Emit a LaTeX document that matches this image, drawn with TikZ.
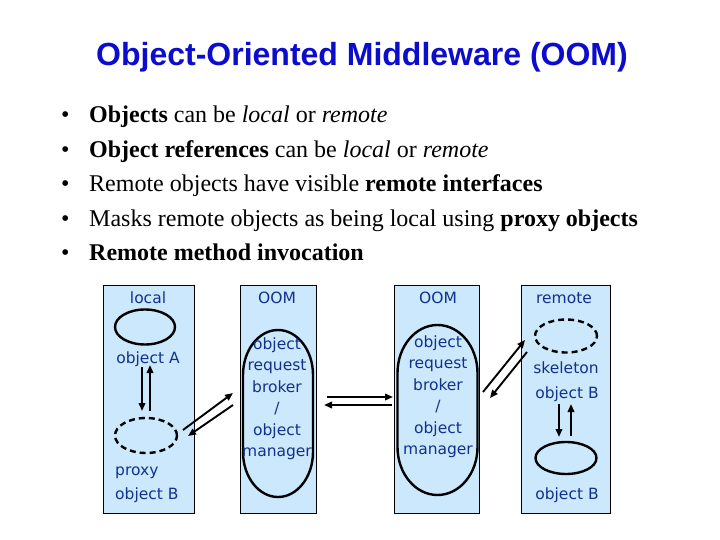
\documentclass[tikz,border=0pt]{standalone}
\usepackage{fontspec}
\setmainfont{Liberation Serif}
\newfontfamily\titlefont{Liberation Sans}
\newfontfamily\boxfont{DejaVu Sans}
\usetikzlibrary{arrows.meta,shapes.geometric}
\definecolor{titleblue}{HTML}{0C0CCC}
\definecolor{navy}{HTML}{12318C}
\definecolor{boxfill}{HTML}{CCE8FC}
\tikzset{
  colbox/.style={draw=black, line width=0.9pt, fill=boxfill, minimum height=228, inner sep=0pt},
  btxt/.style={font=\boxfont\fontsize{15.5}{18}\selectfont, text=navy, anchor=base, inner sep=0pt},
  bul/.style={font=\fontsize{24}{28}\selectfont, anchor=base west, inner sep=0pt},
  obj/.style={draw=black, line width=2.4pt, ellipse, inner sep=0pt},
  pxy/.style={obj, dash pattern=on 6pt off 4pt},
  capline/.style={draw=black, line width=2.4pt},
  arr/.style={line width=1.9pt, -{Triangle[length=8pt,width=6.5pt]}}
}
\begin{document}
\begin{tikzpicture}[x=1pt,y=-1pt]
\useasboundingbox[fill=white] (0,0) rectangle (720,540);
% title
\node[font=\titlefont\bfseries\fontsize{32}{37}\selectfont, text=titleblue, anchor=base, inner sep=0pt] (title) at (362,66) {Object-Oriented Middleware (OOM)};
% bullets
\foreach \i/\yy in {1/123,2/157.5,3/192,4/226,5/260.5}
  \node[bul] (dot\i) at (61,\yy) {•};
\node[bul] (l1) at (89,123) {\textbf{Objects} can be \textit{local} or \textit{remote}};
\node[bul] (l2) at (89,157.5) {\textbf{Object references} can be \textit{local} or \textit{remote}};
\node[bul] (l3) at (89,192) {Remote objects have visible \textbf{remote interfaces}};
\node[bul] (l4) at (89,226) {Masks remote objects as being local using \textbf{proxy objects}};
\node[bul] (l5) at (89,260.5) {\textbf{Remote method invocation}};
% boxes
\node[colbox, minimum width=91] (box1) at (148.5,399) {};
\node[colbox, minimum width=76] (box2) at (278,399) {};
\node[colbox, minimum width=85] (box3) at (436.5,399) {};
\node[colbox, minimum width=89] (box4) at (565.5,399) {};
% box 1
\node[btxt] (t1) at (148,303) {local};
\node[obj, minimum width=60, minimum height=35] (objA) at (145,327) {};
\node[btxt] (t1a) at (148,363) {object A};
\node[pxy, minimum width=62, minimum height=35] (proxy) at (146,435.5) {};
\node[btxt, anchor=base west] (t1b) at (115,475) {proxy};
\node[btxt, anchor=base west] (t1c) at (115,499) {object B};
% box 2
\node[btxt] (t2) at (277,303) {OOM};
\node[inner sep=0pt, minimum width=70, minimum height=167] (orb1) at (278,413.5) {};
\draw[capline] (243,375) arc[start angle=180, end angle=0, x radius=35pt, y radius=45pt]
  -- (313,452) arc[start angle=0, end angle=-180, x radius=35pt, y radius=45pt] -- cycle;
\foreach \t [count=\i] in {object,request,broker,/,object,manager}
  \node[btxt] (o1\i) at (277,349+21.5*\i-21.5) {\t};
% box 3
\node[btxt] (t3) at (438,303) {OOM};
\node[inner sep=0pt, minimum width=80, minimum height=170] (orb2) at (437.5,410) {};
\draw[capline] (397.5,373) arc[start angle=180, end angle=0, x radius=40pt, y radius=48pt]
  -- (477.5,447) arc[start angle=0, end angle=-180, x radius=40pt, y radius=48pt] -- cycle;
\foreach \t [count=\i] in {object,request,broker,/,object,manager}
  \node[btxt] (o2\i) at (438,347+21.5*\i-21.5) {\t};
% box 4
\node[btxt] (t4) at (564,303) {remote};
\node[pxy, minimum width=62, minimum height=33] (skel) at (566,336) {};
\node[btxt] (t4a) at (566,373) {skeleton};
\node[btxt] (t4b) at (567,398) {object B};
\node[obj, minimum width=61, minimum height=32] (objB) at (566,458) {};
\node[btxt] (t4c) at (567,499) {object B};
% connector end points
\coordinate (a1) at (142,367); \coordinate (a2) at (142,411);
\coordinate (a3) at (150,411); \coordinate (a4) at (150,365);
\coordinate (d1) at (183,430); \coordinate (d2) at (233,393);
\coordinate (d3) at (233,405); \coordinate (d4) at (188,436);
\coordinate (h1) at (327,397); \coordinate (h2) at (393,397);
\coordinate (h3) at (392,405); \coordinate (h4) at (324,405);
\coordinate (e1) at (483,392); \coordinate (e2) at (525,340);
\coordinate (e3) at (527,352); \coordinate (e4) at (490,398);
\coordinate (v1) at (559,404); \coordinate (v2) at (559,437);
\coordinate (v3) at (571,436); \coordinate (v4) at (571,404);
\draw[arr] (a1) -- (a2);
\draw[arr] (a3) -- (a4);
\draw[arr] (d1) -- (d2);
\draw[arr] (d3) -- (d4);
\draw[arr] (h1) -- (h2);
\draw[arr] (h3) -- (h4);
\draw[arr] (e1) -- (e2);
\draw[arr] (e3) -- (e4);
\draw[arr] (v1) -- (v2);
\draw[arr] (v3) -- (v4);
\end{tikzpicture}
\end{document}
